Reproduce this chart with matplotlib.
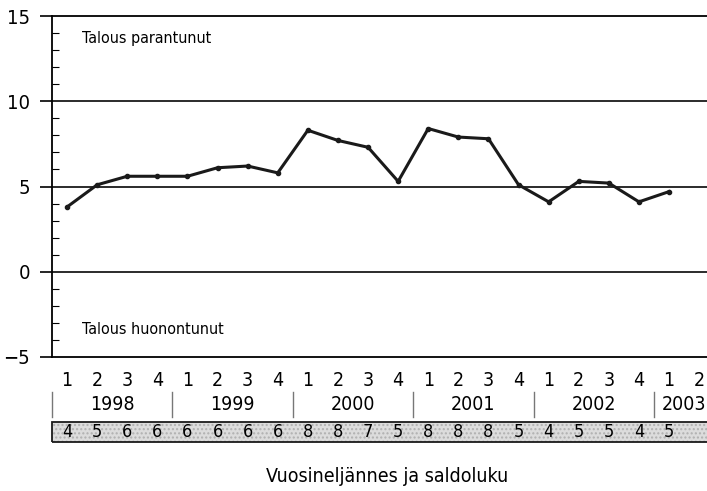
import numpy as np
import matplotlib
matplotlib.use('Agg')
import matplotlib.pyplot as plt
from matplotlib.patches import Rectangle
import matplotlib.transforms as mtransforms

plt.rcParams['font.family'] = ['DejaVu Sans']
plt.rcParams['font.stretch'] = 'condensed'

# data
quarters = ['1', '2', '3', '4'] * 5 + ['1', '2']
years = ['1998', '1999', '2000', '2001', '2002', '2003']
values = [3.8, 5.1, 5.6, 5.6, 5.6, 6.1, 6.2, 5.8, 8.3, 7.7, 7.3, 5.3,
          8.4, 7.9, 7.8, 5.1, 4.1, 5.3, 5.2, 4.1, 4.7]
saldo = ['4', '5', '6', '6', '6', '6', '6', '6', '8', '8', '7', '5',
         '8', '8', '8', '5', '4', '5', '5', '4', '5']

W, H = 707, 491
fig = plt.figure(figsize=(W / 100, H / 100), dpi=100)
ax = fig.add_axes([52 / W, (H - 357) / H, (W - 52) / W, (357 - 16) / H])

x = np.arange(len(values))
ax.plot(x, values, color='#1a1a1a', lw=2.2, marker='o', ms=3)

ax.set_xlim(-0.5, -0.5 + (W - 52) / 30.1)
ax.set_ylim(-5, 15)
ax.set_yticks([-5, 0, 5, 10, 15])
ax.set_yticks(range(-5, 16), minor=True)
ax.tick_params(axis='y', which='major', direction='out', length=9, width=1.2,
               labelsize=14.5, pad=7)
ax.tick_params(axis='y', which='minor', direction='in', length=5, width=0.8)
ax.set_xticks([])
for v in [0, 5, 10]:
    ax.axhline(v, color='#1a1a1a', lw=1.3)
ax.spines['right'].set_visible(False)
for s in ['left', 'top', 'bottom']:
    ax.spines[s].set_linewidth(1.3)

ax.text(0.5, 13.7, 'Talous parantunut', fontsize=11.5, va='center')
ax.text(0.5, -3.4, 'Talous huonontunut', fontsize=11.5, va='center')

# labels below the axes
tr = mtransforms.blended_transform_factory(ax.transData, fig.transFigure)
for i, q in enumerate(quarters):
    ax.text(i, (H - 380) / H, q, transform=tr, ha='center', va='center',
            fontsize=14, clip_on=False)
for k, yr in enumerate(years):
    ax.text(4 * k + 1.5 if k < 5 else 20.5, (H - 405) / H, yr, transform=tr,
            ha='center', va='center', fontsize=14, clip_on=False)
    ax.plot([4 * k - 0.5, 4 * k - 0.5], [(H - 392) / H, (H - 417) / H],
            transform=tr, color='#777777', lw=1, clip_on=False)

band = Rectangle((-0.5, (H - 442) / H), 30, 20 / H, transform=tr,
                 facecolor='#dcdcdc', edgecolor='#b0b0b0', lw=0,
                 hatch='....', clip_on=False)
ax.add_patch(band)
ax.add_patch(Rectangle((-0.5, (H - 442) / H), 30, 20 / H, transform=tr,
                       facecolor='none', edgecolor='#1a1a1a', lw=1.3,
                       clip_on=False))
for i, s in enumerate(saldo):
    ax.text(i, (H - 432) / H, s, transform=tr, ha='center', va='center',
            fontsize=13, clip_on=False)

fig.text(387 / W, (H - 476) / H, 'Vuosineljännes ja saldoluku',
         ha='center', va='center', fontsize=14)

fig.savefig('out.png', dpi=100)
